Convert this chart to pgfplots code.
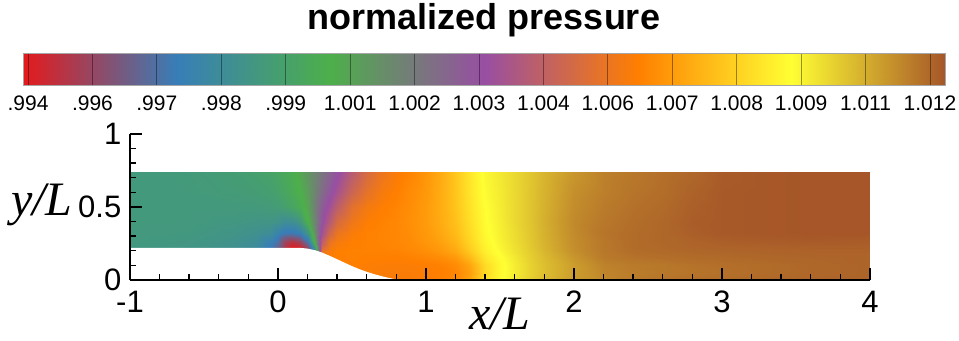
\documentclass[border=0pt]{standalone}
\usepackage{fontspec}
\setmainfont{Liberation Sans}
\newfontfamily\seriffont{Liberation Serif}
\usepackage{pgfplots}
\pgfplotsset{compat=1.18}

\pgfplotsset{
  colormap={setone}{rgb255=(228,26,28) rgb255=(55,126,184) rgb255=(77,175,74)
    rgb255=(152,78,163) rgb255=(255,127,0) rgb255=(255,255,51) rgb255=(166,86,40)},
}

\begin{document}
\begin{tikzpicture}
\useasboundingbox (-65pt,-30.5pt) rectangle (414.5pt,140pt);

% ---- channel with ramp: pressure field ----
\begin{axis}[
  at={(0pt,0pt)}, anchor=south west,
  scale only axis, width=370pt, height=73pt,
  xmin=-1, xmax=4, ymin=0, ymax=1,
  axis x line*=bottom, axis y line*=left,
  axis line style={line width=0.7pt},
  xtick={-1,0,1,2,3,4}, xticklabels={-1,0,1,2,3,4},
  ytick={0,0.5,1}, yticklabels={0,0.5,1},
  minor x tick num=4, minor y tick num=4,
  tick align=inside,
  major tick length=6pt, minor tick length=3pt,
  tick style={black, line width=0.7pt},
  ticklabel style={font=\fontsize{15.5}{15.5}\selectfont},
  xticklabel style={yshift=-2pt},
  yticklabel style={xshift=-0.8pt},
  axis on top,
  colormap name=setone,
  point meta min=0.9939, point meta max=1.0123,
]
\addplot[surf, shader=interp, mesh/ordering=y varies, point meta=\thisrow{p}]
  table[x=x, y=y] {
x y p
-1 0 0.99856
-1 0.05 0.99856
-1 0.1 0.99856
-1 0.15 0.99856
-1 0.2 0.99856
-1 0.22 0.99856
-1 0.26 0.99859
-1 0.32 0.99862
-1 0.4 0.99865
-1 0.5 0.99865
-1 0.6 0.99865
-1 0.74 0.99865

-0.6 0 0.99841
-0.6 0.05 0.99841
-0.6 0.1 0.99841
-0.6 0.15 0.99841
-0.6 0.2 0.99841
-0.6 0.22 0.99841
-0.6 0.26 0.99847
-0.6 0.32 0.99856
-0.6 0.4 0.99862
-0.6 0.5 0.99865
-0.6 0.6 0.99868
-0.6 0.74 0.99871

-0.3 0 0.99813
-0.3 0.05 0.99813
-0.3 0.1 0.99813
-0.3 0.15 0.99813
-0.3 0.2 0.99813
-0.3 0.22 0.99813
-0.3 0.26 0.99822
-0.3 0.32 0.99835
-0.3 0.4 0.99850
-0.3 0.5 0.99865
-0.3 0.6 0.99878
-0.3 0.74 0.99887

-0.15 0 0.99773
-0.15 0.05 0.99773
-0.15 0.1 0.99773
-0.15 0.15 0.99773
-0.15 0.2 0.99773
-0.15 0.22 0.99773
-0.15 0.26 0.99789
-0.15 0.32 0.99813
-0.15 0.4 0.99841
-0.15 0.5 0.99868
-0.15 0.6 0.99887
-0.15 0.74 0.99905

-0.05 0 0.99681
-0.05 0.05 0.99681
-0.05 0.1 0.99681
-0.05 0.15 0.99681
-0.05 0.2 0.99681
-0.05 0.22 0.99681
-0.05 0.26 0.99712
-0.05 0.32 0.99789
-0.05 0.4 0.99838
-0.05 0.5 0.99875
-0.05 0.6 0.99899
-0.05 0.74 0.99924

0 0 0.99605
0 0.05 0.99605
0 0.1 0.99605
0 0.15 0.99605
0 0.2 0.99605
0 0.22 0.99605
0 0.26 0.99651
0 0.32 0.99727
0 0.4 0.99825
0 0.5 0.99887
0 0.6 0.99917
0 0.74 0.99942

0.05 0 0.99482
0.05 0.05 0.99482
0.05 0.1 0.99482
0.05 0.15 0.99482
0.05 0.2 0.99482
0.05 0.22 0.99482
0.05 0.26 0.99513
0.05 0.32 0.99681
0.05 0.4 0.99789
0.05 0.5 0.99905
0.05 0.6 0.99942
0.05 0.74 0.99963

0.1 0 0.99390
0.1 0.05 0.99390
0.1 0.1 0.99390
0.1 0.15 0.99390
0.1 0.2 0.99390
0.1 0.22 0.99390
0.1 0.26 0.99467
0.1 0.32 0.99681
0.1 0.4 0.99804
0.1 0.5 0.99936
0.1 0.6 0.99973
0.1 0.74 0.99988

0.15 0 0.99421
0.15 0.05 0.99421
0.15 0.1 0.99421
0.15 0.15 0.99421
0.15 0.2 0.99421
0.15 0.22 0.99421
0.15 0.26 0.99513
0.15 0.32 0.99712
0.15 0.4 0.99850
0.15 0.5 0.99973
0.15 0.6 1.00003
0.15 0.74 1.00034

0.2 0 0.99513
0.2 0.05 0.99513
0.2 0.1 0.99513
0.2 0.15 0.99513
0.2 0.2 0.99513
0.2 0.22 0.99543
0.2 0.26 0.99666
0.2 0.32 0.99850
0.2 0.4 1.00003
0.2 0.5 1.00040
0.2 0.6 1.00065
0.2 0.74 1.00089

0.25 0 0.99697
0.25 0.05 0.99697
0.25 0.1 0.99697
0.25 0.15 0.99697
0.25 0.2 0.99697
0.25 0.22 0.99881
0.25 0.26 1.00034
0.25 0.32 1.00111
0.25 0.4 1.00141
0.25 0.5 1.00157
0.25 0.6 1.00141
0.25 0.74 1.00132

0.3 0 1.00586
0.3 0.05 1.00586
0.3 0.1 1.00586
0.3 0.15 1.00586
0.3 0.2 1.00555
0.3 0.22 1.00494
0.3 0.26 1.00417
0.3 0.32 1.00341
0.3 0.4 1.00295
0.3 0.5 1.00264
0.3 0.6 1.00218
0.3 0.74 1.00187

0.35 0 1.00617
0.35 0.05 1.00617
0.35 0.1 1.00617
0.35 0.15 1.00617
0.35 0.2 1.00601
0.35 0.22 1.00586
0.35 0.26 1.00555
0.35 0.32 1.00477
0.35 0.4 1.00402
0.35 0.5 1.00341
0.35 0.6 1.00285
0.35 0.74 1.00243

0.4 0 1.00617
0.4 0.05 1.00617
0.4 0.1 1.00617
0.4 0.15 1.00617
0.4 0.2 1.00617
0.4 0.22 1.00607
0.4 0.26 1.00592
0.4 0.32 1.00555
0.4 0.4 1.00494
0.4 0.5 1.00417
0.4 0.6 1.00347
0.4 0.74 1.00295

0.5 0 1.00617
0.5 0.05 1.00617
0.5 0.1 1.00617
0.5 0.15 1.00623
0.5 0.2 1.00623
0.5 0.22 1.00617
0.5 0.26 1.00617
0.5 0.32 1.00601
0.5 0.4 1.00571
0.5 0.5 1.00531
0.5 0.6 1.00463
0.5 0.74 1.00402

0.6 0 1.00607
0.6 0.05 1.00607
0.6 0.1 1.00611
0.6 0.15 1.00617
0.6 0.2 1.00623
0.6 0.22 1.00623
0.6 0.26 1.00623
0.6 0.32 1.00623
0.6 0.4 1.00611
0.6 0.5 1.00586
0.6 0.6 1.00540
0.6 0.74 1.00494

0.7 0 1.00601
0.7 0.05 1.00601
0.7 0.1 1.00607
0.7 0.15 1.00617
0.7 0.2 1.00623
0.7 0.22 1.00626
0.7 0.26 1.00629
0.7 0.32 1.00629
0.7 0.4 1.00626
0.7 0.5 1.00614
0.7 0.6 1.00592
0.7 0.74 1.00561

0.8 0 1.00601
0.8 0.05 1.00601
0.8 0.1 1.00607
0.8 0.15 1.00617
0.8 0.2 1.00626
0.8 0.22 1.00632
0.8 0.26 1.00635
0.8 0.32 1.00635
0.8 0.4 1.00635
0.8 0.5 1.00629
0.8 0.6 1.00617
0.8 0.74 1.00601

0.9 0 1.00601
0.9 0.05 1.00601
0.9 0.1 1.00607
0.9 0.15 1.00623
0.9 0.2 1.00638
0.9 0.22 1.00641
0.9 0.26 1.00647
0.9 0.32 1.00653
0.9 0.4 1.00657
0.9 0.5 1.00653
0.9 0.6 1.00647
0.9 0.74 1.00632

1.0 0 1.00607
1.0 0.05 1.00607
1.0 0.1 1.00614
1.0 0.15 1.00632
1.0 0.2 1.00653
1.0 0.22 1.00660
1.0 0.26 1.00672
1.0 0.32 1.00678
1.0 0.4 1.00684
1.0 0.5 1.00684
1.0 0.6 1.00678
1.0 0.74 1.00672

1.1 0 1.00617
1.1 0.05 1.00617
1.1 0.1 1.00623
1.1 0.15 1.00647
1.1 0.2 1.00678
1.1 0.22 1.00684
1.1 0.26 1.00699
1.1 0.32 1.00715
1.1 0.4 1.00724
1.1 0.5 1.00727
1.1 0.6 1.00727
1.1 0.74 1.00724

1.2 0 1.00641
1.2 0.05 1.00632
1.2 0.1 1.00647
1.2 0.15 1.00678
1.2 0.2 1.00718
1.2 0.22 1.00727
1.2 0.26 1.00745
1.2 0.32 1.00764
1.2 0.4 1.00776
1.2 0.5 1.00785
1.2 0.6 1.00788
1.2 0.74 1.00791

1.3 0 1.00709
1.3 0.05 1.00693
1.3 0.1 1.00709
1.3 0.15 1.00755
1.3 0.2 1.00795
1.3 0.22 1.00807
1.3 0.26 1.00822
1.3 0.32 1.00837
1.3 0.4 1.00847
1.3 0.5 1.00856
1.3 0.6 1.00862
1.3 0.74 1.00868

1.4 0 1.00847
1.4 0.05 1.00831
1.4 0.1 1.00837
1.4 0.15 1.00862
1.4 0.2 1.00887
1.4 0.22 1.00893
1.4 0.26 1.00902
1.4 0.32 1.00911
1.4 0.4 1.00917
1.4 0.5 1.00923
1.4 0.6 1.00930
1.4 0.74 1.00936

1.5 0 1.00915
1.5 0.05 1.00908
1.5 0.1 1.00908
1.5 0.15 1.00918
1.5 0.2 1.00933
1.5 0.22 1.00939
1.5 0.26 1.00945
1.5 0.32 1.00951
1.5 0.4 1.00954
1.5 0.5 1.00957
1.5 0.6 1.00960
1.5 0.74 1.00964

1.6 0 1.00964
1.6 0.05 1.00958
1.6 0.1 1.00958
1.6 0.15 1.00964
1.6 0.2 1.00976
1.6 0.22 1.00979
1.6 0.26 1.00985
1.6 0.32 1.00988
1.6 0.4 1.00994
1.6 0.5 1.00994
1.6 0.6 1.00994
1.6 0.74 1.00994

1.7 0 1.01010
1.7 0.05 1.01004
1.7 0.1 1.01004
1.7 0.15 1.01010
1.7 0.2 1.01016
1.7 0.22 1.01019
1.7 0.26 1.01022
1.7 0.32 1.01025
1.7 0.4 1.01028
1.7 0.5 1.01028
1.7 0.6 1.01028
1.7 0.74 1.01025

1.8 0 1.01046
1.8 0.05 1.01040
1.8 0.1 1.01040
1.8 0.15 1.01046
1.8 0.2 1.01056
1.8 0.22 1.01059
1.8 0.26 1.01062
1.8 0.32 1.01065
1.8 0.4 1.01068
1.8 0.5 1.01065
1.8 0.6 1.01062
1.8 0.74 1.01059

2.0 0 1.01107
2.0 0.05 1.01101
2.0 0.1 1.01101
2.0 0.15 1.01113
2.0 0.2 1.01126
2.0 0.22 1.01129
2.0 0.26 1.01132
2.0 0.32 1.01135
2.0 0.4 1.01138
2.0 0.5 1.01132
2.0 0.6 1.01126
2.0 0.74 1.01113

2.2 0 1.01138
2.2 0.05 1.01144
2.2 0.1 1.01150
2.2 0.15 1.01163
2.2 0.2 1.01169
2.2 0.22 1.01169
2.2 0.26 1.01169
2.2 0.32 1.01175
2.2 0.4 1.01169
2.2 0.5 1.01163
2.2 0.6 1.01156
2.2 0.74 1.01153

2.4 0 1.01163
2.4 0.05 1.01160
2.4 0.1 1.01163
2.4 0.15 1.01178
2.4 0.2 1.01187
2.4 0.22 1.01190
2.4 0.26 1.01190
2.4 0.32 1.01190
2.4 0.4 1.01187
2.4 0.5 1.01181
2.4 0.6 1.01175
2.4 0.74 1.01169

2.6 0 1.01175
2.6 0.05 1.01169
2.6 0.1 1.01169
2.6 0.15 1.01184
2.6 0.2 1.01193
2.6 0.22 1.01196
2.6 0.26 1.01199
2.6 0.32 1.01199
2.6 0.4 1.01199
2.6 0.5 1.01193
2.6 0.6 1.01187
2.6 0.74 1.01184

2.8 0 1.01184
2.8 0.05 1.01175
2.8 0.1 1.01178
2.8 0.15 1.01190
2.8 0.2 1.01199
2.8 0.22 1.01202
2.8 0.26 1.01205
2.8 0.32 1.01214
2.8 0.4 1.01218
2.8 0.5 1.01214
2.8 0.6 1.01208
2.8 0.74 1.01199

3.0 0 1.01190
3.0 0.05 1.01181
3.0 0.1 1.01184
3.0 0.15 1.01193
3.0 0.2 1.01202
3.0 0.22 1.01205
3.0 0.26 1.01214
3.0 0.32 1.01224
3.0 0.4 1.01224
3.0 0.5 1.01224
3.0 0.6 1.01224
3.0 0.74 1.01221

3.3 0 1.01199
3.3 0.05 1.01190
3.3 0.1 1.01190
3.3 0.15 1.01199
3.3 0.2 1.01205
3.3 0.22 1.01208
3.3 0.26 1.01218
3.3 0.32 1.01227
3.3 0.4 1.01227
3.3 0.5 1.01227
3.3 0.6 1.01227
3.3 0.74 1.01227

3.6 0 1.01205
3.6 0.05 1.01199
3.6 0.1 1.01199
3.6 0.15 1.01202
3.6 0.2 1.01208
3.6 0.22 1.01211
3.6 0.26 1.01221
3.6 0.32 1.01230
3.6 0.4 1.01230
3.6 0.5 1.01230
3.6 0.6 1.01230
3.6 0.74 1.01230

4.0 0 1.01208
4.0 0.05 1.01205
4.0 0.1 1.01205
4.0 0.15 1.01205
4.0 0.2 1.01208
4.0 0.22 1.01211
4.0 0.26 1.01218
4.0 0.32 1.01230
4.0 0.4 1.01230
4.0 0.5 1.01230
4.0 0.6 1.01230
4.0 0.74 1.01230
};
% solid wall below the flow: inlet step and ramp
\addplot[fill=white, draw=none] coordinates {
  (-1.01,-0.01) (-1.01,0.22) (0.15,0.22) (0.2,0.215) (0.25,0.204) (0.3,0.187)
  (0.35,0.165) (0.4,0.142) (0.45,0.118) (0.5,0.095) (0.55,0.074) (0.6,0.056)
  (0.65,0.04) (0.7,0.026) (0.75,0.014) (0.8,0.004) (0.83,0) (0.83,-0.01)
} -- cycle;
\end{axis}

% ---- horizontal colour bar ----
\begin{axis}[
  at={(-53.5pt,97.5pt)}, anchor=south west,
  scale only axis, width=461pt, height=16pt,
  xmin=0.9939, xmax=1.0123, ymin=0, ymax=1,
  ytick=\empty, scaled x ticks=false,
  xtick={0.994,0.995286,0.996571,0.997857,0.999143,1.000429,1.001714,1.003,
         1.004286,1.005571,1.006857,1.008143,1.009429,1.010714,1.012},
  xticklabels={.994,.996,.997,.998,.999,1.001,1.002,1.003,1.004,1.006,1.007,1.008,1.009,1.011,1.012},
  xtick pos=bottom, tick align=inside, major tick length=16pt,
  tick style={black, opacity=0.4, line width=0.35pt},
  axis line style={black!35, line width=0.4pt},
  ticklabel style={font=\fontsize{10.5}{10.5}\selectfont},
  xticklabel style={yshift=-2pt},
  axis on top,
  colormap name=setone,
  point meta min=0.9939, point meta max=1.0123,
]
\addplot[surf, shader=interp, point meta=x] coordinates {
(0.9939,0) (0.99697,0) (1.00003,0) (1.0031,0) (1.00617,0) (1.00923,0) (1.0123,0)

(0.9939,1) (0.99697,1) (1.00003,1) (1.0031,1) (1.00617,1) (1.00923,1) (1.0123,1)
};
\end{axis}

\node[font=\bfseries\fontsize{18}{18}\selectfont, anchor=base] at (177pt,125pt) {normalized pressure};
\node[font=\seriffont\itshape\fontsize{24}{24}\selectfont, anchor=base] at (-44pt,32pt) {y/L};
\node[font=\seriffont\itshape\fontsize{24}{24}\selectfont, anchor=base] at (185pt,-25pt) {x/L};
\end{tikzpicture}
\end{document}
